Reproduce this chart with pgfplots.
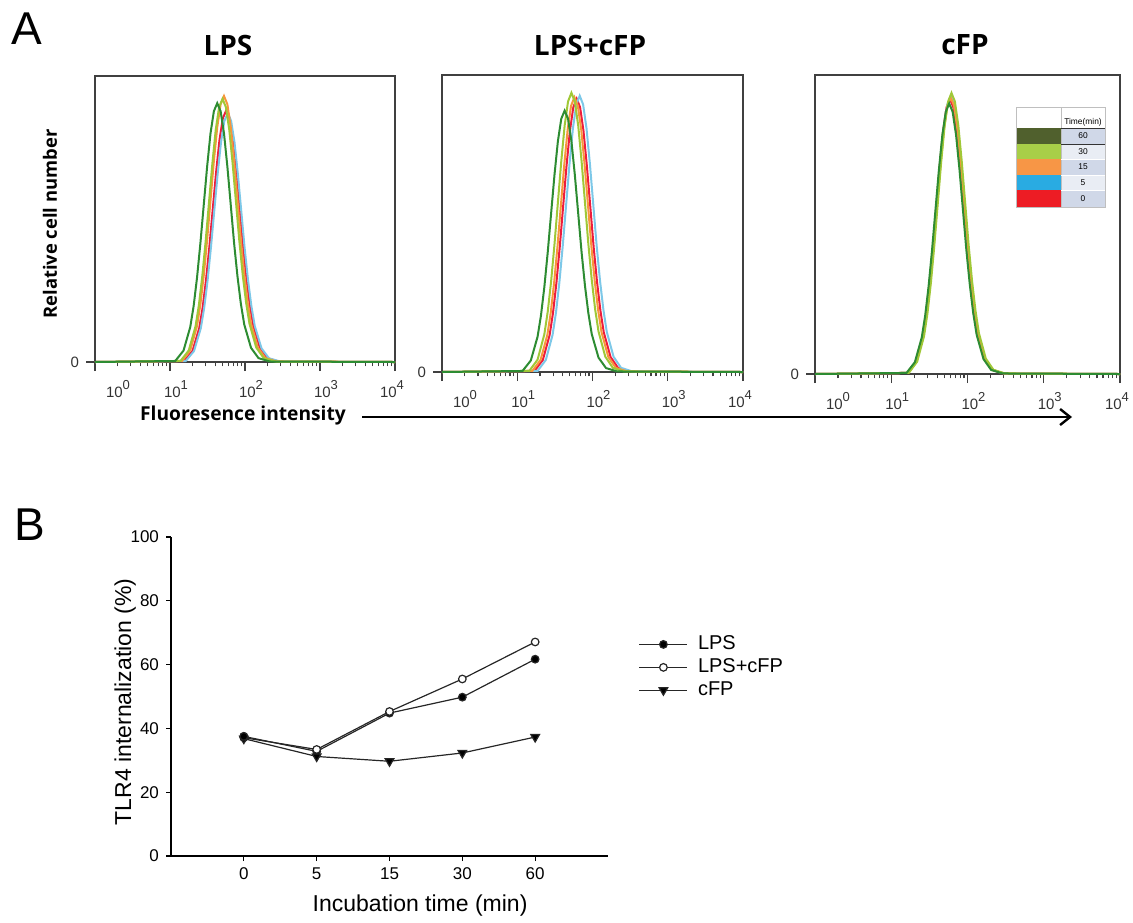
\documentclass[border=0pt]{standalone}
\usepackage{fontspec}
\setmainfont{Liberation Sans}
\newfontfamily\nsans{Open Sans}
\usepackage{pgfplots}
\usepackage{pgfplotstable}
\pgfplotsset{compat=1.18}
\usetikzlibrary{arrows.meta}

% curve colours (0, 5, 15, 30, 60 min)
\definecolor{c0}{RGB}{237,28,60}
\definecolor{c5}{RGB}{125,200,232}
\definecolor{c15}{RGB}{247,150,60}
\definecolor{c30}{RGB}{160,200,55}
\definecolor{c60}{RGB}{45,140,50}
% legend table colours
\definecolor{lg60}{RGB}{80,96,45}
\definecolor{lg30}{RGB}{168,206,72}
\definecolor{lg15}{RGB}{247,150,70}
\definecolor{lg5}{RGB}{41,171,226}
\definecolor{lg0}{RGB}{237,28,36}
\definecolor{cellA}{RGB}{208,216,232}
\definecolor{cellB}{RGB}{233,237,244}

% histogram outlines: x in log10(intensity), y relative count
% xNNN = curve centred at N.NN decades, yNNN = curve of peak height NN(.N)
\pgfplotstableread{
x163  x170  x172  x175  x176  x177  x178  x179  x183  y87   y88   y905  y92   y925  y93   y94
0     0     0     0     0     0     0     0     0     0     0     0     0     0     0     0
1.07  1.14  1.16  1.19  1.20  1.21  1.22  1.23  1.27  0.35  0.35  0.36  0.37  0.37  0.37  0.38
1.18  1.25  1.27  1.30  1.31  1.32  1.33  1.34  1.38  3.83  3.87  3.98  4.05  4.07  4.09  4.14
1.27  1.34  1.36  1.39  1.40  1.41  1.42  1.43  1.47  11.75 11.88 12.22 12.42 12.49 12.56 12.69
1.315 1.385 1.405 1.435 1.445 1.455 1.465 1.475 1.515 18.79 19.01 19.55 19.87 19.98 20.09 20.30
1.36  1.43  1.45  1.48  1.49  1.50  1.51  1.52  1.56  28.28 28.60 29.41 29.90 30.06 30.23 30.55
1.405 1.475 1.495 1.525 1.535 1.545 1.555 1.565 1.605 39.85 40.30 41.45 42.14 42.37 42.59 43.05
1.45  1.52  1.54  1.57  1.58  1.59  1.60  1.61  1.65  52.81 53.42 54.93 55.84 56.15 56.45 57.06
1.495 1.565 1.585 1.615 1.625 1.635 1.645 1.655 1.695 65.69 66.44 68.33 69.46 69.84 70.22 70.97
1.54  1.61  1.63  1.66  1.67  1.68  1.69  1.70  1.74  76.82 77.70 79.91 81.24 81.68 82.12 83.00
1.585 1.655 1.675 1.705 1.715 1.725 1.735 1.745 1.785 84.30 85.27 87.69 89.15 89.63 90.12 91.09
1.63  1.70  1.72  1.75  1.76  1.77  1.78  1.79  1.83  87.00 88.00 90.50 92.00 92.50 93.00 94.00
1.675 1.745 1.765 1.795 1.805 1.815 1.825 1.835 1.875 84.30 85.27 87.69 89.15 89.63 90.12 91.09
1.72  1.79  1.81  1.84  1.85  1.86  1.87  1.88  1.92  76.82 77.70 79.91 81.24 81.68 82.12 83.00
1.765 1.835 1.855 1.885 1.895 1.905 1.915 1.925 1.965 65.69 66.44 68.33 69.46 69.84 70.22 70.97
1.81  1.88  1.90  1.93  1.94  1.95  1.96  1.97  2.01  52.81 53.42 54.93 55.84 56.15 56.45 57.06
1.855 1.925 1.945 1.975 1.985 1.995 2.005 2.015 2.055 39.85 40.30 41.45 42.14 42.37 42.59 43.05
1.90  1.97  1.99  2.02  2.03  2.04  2.05  2.06  2.10  28.71 29.04 29.87 30.36 30.53 30.69 31.02
1.945 2.015 2.035 2.065 2.075 2.085 2.095 2.105 2.145 19.58 19.80 20.36 20.70 20.81 20.93 21.15
1.99  2.06  2.08  2.11  2.12  2.13  2.14  2.15  2.19  12.62 12.76 13.12 13.34 13.41 13.49 13.63
2.08  2.15  2.17  2.20  2.21  2.22  2.23  2.24  2.28  4.79  4.84  4.98  5.06  5.09  5.12  5.17
2.18  2.25  2.27  2.30  2.31  2.32  2.33  2.34  2.38  1.31  1.32  1.36  1.38  1.39  1.40  1.41
2.33  2.40  2.42  2.45  2.46  2.47  2.48  2.49  2.53  0.17  0.18  0.18  0.18  0.19  0.19  0.19
4     4     4     4     4     4     4     4     4     0     0     0     0     0     0     0
}\shape

\newcommand{\dec}[1]{10\raisebox{0.55em}{\fontsize{6.5}{7}\selectfont #1}}

\pgfplotsset{
  hist/.style={
    scale only axis, anchor=south west,
    xmin=0, xmax=4, ymin=0, ymax=100, clip=false,
    axis line style={black!75, line width=0.7pt},
    xtick={0,1,2,3,4},
    xticklabels={\hspace*{17pt}\dec{0},\dec{1},\dec{2},\dec{3},\dec{4}\hspace*{9pt}},
    minor xtick={0.301,0.477,0.602,0.699,0.778,0.845,0.903,0.954,
                 1.301,1.477,1.602,1.699,1.778,1.845,1.903,1.954,
                 2.301,2.477,2.602,2.699,2.778,2.845,2.903,2.954,
                 3.301,3.477,3.602,3.699,3.778,3.845,3.903,3.954},
    ytick={0}, yticklabels={0},
    xtick pos=bottom, ytick pos=left,
    tick align=outside,
    major tick length=4.5pt, minor tick length=2.2pt,
    every tick/.style={black!75, line width=0.6pt},
    tick label style={font=\fontsize{7.5}{8}\selectfont, text=black!80},
    xticklabel style={xshift=3pt, yshift=-1pt},
    every axis plot/.append style={line width=1pt, no markers},
  },
}

\begin{document}
\begin{tikzpicture}

% ---------- panel A ----------
\begin{axis}[hist, at={(47.5pt,-181pt)}, width=150pt, height=143pt]
\addplot[c0]  table[x=x175, y=y88]  {\shape};
\addplot[c5]  table[x=x177, y=y87]  {\shape};
\addplot[c15] table[x=x172, y=y93]  {\shape};
\addplot[c30] table[x=x170, y=y92]  {\shape};
\addplot[c60] table[x=x163, y=y905] {\shape};
\end{axis}

\begin{axis}[hist, at={(221pt,-186pt)}, width=150.5pt, height=148.5pt]
\addplot[c0]  table[x=x179, y=y92]  {\shape};
\addplot[c5]  table[x=x183, y=y93]  {\shape};
\addplot[c15] table[x=x176, y=y925] {\shape};
\addplot[c30] table[x=x172, y=y94]  {\shape};
\addplot[c60] table[x=x163, y=y88]  {\shape};
\end{axis}

\begin{axis}[hist, at={(407.5pt,-187pt)}, width=152.5pt, height=149.5pt]
\addplot[c0]  table[x=x177, y=y92]  {\shape};
\addplot[c5]  table[x=x178, y=y93]  {\shape};
\addplot[c15] table[x=x178, y=y925] {\shape};
\addplot[c30] table[x=x179, y=y94]  {\shape};
\addplot[c60] table[x=x176, y=y905] {\shape};
\end{axis}

\begin{scope}[x=1pt, y=1pt]
  \node[font=\fontsize{23}{26}\selectfont] at (13.5,-14.5) {A};
  \node[font=\nsans\bfseries\fontsize{14}{16}\selectfont] at (114,-22.5) {LPS};
  \node[font=\nsans\bfseries\fontsize{14}{16}\selectfont] at (295,-22.5) {LPS+cFP};
  \node[font=\nsans\bfseries\fontsize{14}{16}\selectfont] at (482.5,-22.5) {cFP};
  \node[rotate=90, font=\nsans\bfseries\fontsize{9.2}{10}\selectfont] at (25,-112) {Relative cell number};
  \node[font=\nsans\bfseries\fontsize{9.6}{11}\selectfont] at (121.5,-208) {Fluoresence intensity};
  \draw[line width=1.4pt, -{Straight Barb[length=5pt, width=8pt, line width=1.2pt]}] (181,-208.5) -- (536,-208.5);

  % time legend table in the cFP panel
  \fill[white] (508,-53.5) rectangle (552.5,-64);
  \fill[lg60] (508,-64)   rectangle (530.5,-72);
  \fill[lg30] (508,-72)   rectangle (530.5,-79.5);
  \fill[lg15] (508,-79.5) rectangle (530.5,-87.5);
  \fill[lg5]  (508,-87.5) rectangle (530.5,-95);
  \fill[lg0]  (508,-95)   rectangle (530.5,-103.5);
  \fill[cellA] (530.5,-64)   rectangle (552.5,-72);
  \fill[cellB] (530.5,-72)   rectangle (552.5,-79.5);
  \fill[cellA] (530.5,-79.5) rectangle (552.5,-87.5);
  \fill[cellB] (530.5,-87.5) rectangle (552.5,-95);
  \fill[cellA] (530.5,-95)   rectangle (552.5,-103.5);
  \draw[black!25, line width=0.4pt] (508,-53.5) rectangle (552.5,-103.5);
  \draw[black!25, line width=0.4pt] (530.5,-53.5) -- (530.5,-103.5);
  \draw[white, line width=0.4pt] (530.5,-79.5) -- (552.5,-79.5) (530.5,-87.5) -- (552.5,-87.5) (530.5,-95) -- (552.5,-95);
  \draw[black!80, line width=0.5pt] (530.5,-64) -- (552.5,-64) (530.5,-72) -- (552.5,-72);
  \begin{scope}[every node/.style={font=\fontsize{4.2}{4.5}\selectfont, inner sep=0pt}]
    \node at (541.5,-61) {Time(min)};
    \node at (541.5,-68)   {60};
    \node at (541.5,-75.75) {30};
    \node at (541.5,-83.5) {15};
    \node at (541.5,-91.25) {5};
    \node at (541.5,-99.25) {0};
  \end{scope}

  \node[font=\fontsize{23}{26}\selectfont] at (15,-262.5) {B};
\end{scope}

% ---------- panel B ----------
\begin{axis}[
    at={(85.5pt,-428pt)}, anchor=south west,
    scale only axis, width=218.5pt, height=159.5pt,
    xmin=-1, xmax=5, ymin=0, ymax=100,
    axis x line=bottom, axis y line=left,
    axis line style={-, line width=0.6pt},
    xtick={0,1,2,3,4}, xticklabels={0,5,15,30,60},
    ytick={0,20,40,60,80,100},
    tick align=outside, major tick length=2.5pt,
    every tick/.style={black, line width=0.6pt},
    tick label style={font=\fontsize{8.5}{10}\selectfont},
    /pgf/number format/assume math mode=true,
    xlabel={Incubation time (min)},
    ylabel={TLR4 internalization (\%)},
    label style={font=\fontsize{11.5}{13}\selectfont},
    xlabel style={at={(axis description cs:0.57,-0.154)}, anchor=center},
    ylabel style={at={(axis description cs:-0.105,0.483)}, anchor=center},
    legend style={at={(1.065,0.71)}, anchor=north west, draw=none, fill=none,
                  font=\fontsize{10}{12}\selectfont, inner sep=1pt, row sep=-1pt,
                  column sep=3pt},
    legend cell align=left,
    legend image code/.code={\draw[mark repeat=2, mark phase=2, #1] plot coordinates {(0pt,0pt) (12pt,0pt) (24pt,0pt)};},
    every axis plot/.append style={black!85, line width=0.6pt, mark size=1.9pt},
]
\addplot[mark=*, mark options={fill=black}] coordinates {(0,37.5) (1,32.8) (2,44.8) (3,49.8) (4,61.7)};
\addplot[mark=*, mark options={fill=white}] coordinates {(0,37.1) (1,33.4) (2,45.3) (3,55.5) (4,67.1)};
\addplot[mark=triangle*, mark size=2.5pt, mark options={rotate=180, fill=black}] coordinates {(0,36.8) (1,31.2) (2,29.7) (3,32.3) (4,37.3)};
\addplot[forget plot, only marks, mark=*, mark options={fill=black}] coordinates {(0,37.5)};
\legend{LPS, LPS+cFP, cFP}
\end{axis}

\pgfresetboundingbox
\path[use as bounding box] (0pt,0pt) rectangle (566.5pt,-461pt);
\end{tikzpicture}
\end{document}
